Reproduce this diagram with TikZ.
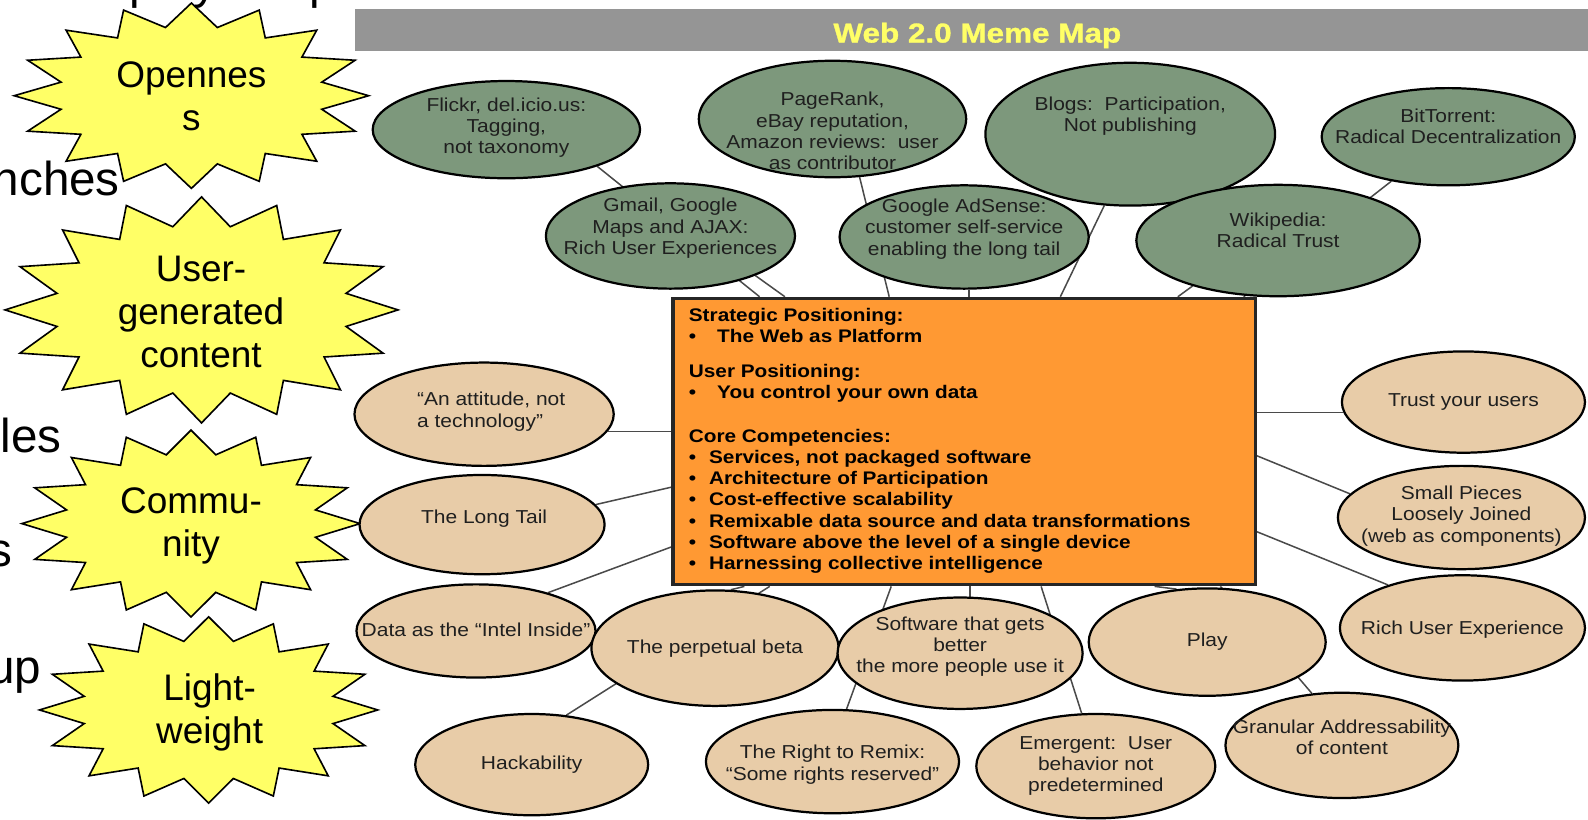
\documentclass[tikz,border=0pt]{standalone}
\usepackage{fontspec}
\setmainfont{Liberation Sans}
\newfontfamily\ellfont[FakeStretch=1.12]{Liberation Sans}
\newfontfamily\boxfont[FakeStretch=1.14]{Liberation Sans}
\newfontfamily\titlefont[FakeStretch=1.15,FakeBold=1.2]{Liberation Sans}
\usetikzlibrary{shapes.geometric,calc}
\definecolor{memegreen}{HTML}{7D987C}
\definecolor{memebeige}{HTML}{E8CCA8}
\definecolor{memeorange}{HTML}{FF9933}
\definecolor{bargray}{HTML}{959595}
\definecolor{titleyellow}{HTML}{FFFF66}
\definecolor{staryellow}{HTML}{FFFF66}
\definecolor{conngray}{HTML}{4A4A4A}
\pgfdeclarelayer{bg}
\pgfsetlayers{bg,main}
\tikzset{
  memeell/.style={ellipse, draw=black, line width=2.2pt, inner sep=0pt},
  greenell/.style={memeell, fill=memegreen},
  beigeell/.style={memeell, fill=memebeige},
  memetxt/.style={align=center, inner sep=0pt, text=black!88, font=\ellfont\fontsize{18.5}{21}\selectfont},
  boxtxt/.style={align=left, inner sep=0pt, text=black, font=\boxfont\bfseries\fontsize{18}{21}\selectfont},
  titletxt/.style={inner sep=0pt, text=titleyellow, font=\titlefont\bfseries\fontsize{27}{30}\selectfont},
  conn/.style={draw=conngray, line width=1.5pt},
  burst/.style={draw=black, line width=1.6pt, fill=staryellow, line join=miter},
  bursttxt/.style={align=center, inner sep=0pt, font=\fontsize{36.5}{42.5}\selectfont},
  slidetxt/.style={inner sep=0pt, anchor=base east, font=\fontsize{47}{54}\selectfont},
}
\newcommand{\burstat}[4]{%
  \draw[burst] plot[samples at={0,1,...,31}, variable=\k]
    ({#1+(1-0.25*mod(\k,2))*#3*cos(90+\k*11.25)},{#2+(1-0.25*mod(\k,2))*#4*sin(90+\k*11.25)}) -- cycle;}
\newcommand{\meme}[9]{%
  \node[#2, minimum width=#5pt, minimum height=#6pt] (#1) at (#3,#4) {};
  \node[memetxt] (#1-t) at ($(#1.center)+(#7,#8)$) {#9};}
\begin{document}
\begin{tikzpicture}[x=1pt,y=-1pt]
\useasboundingbox (0,0) rectangle (1568,809);
% background slide text (cut off)
\node[slidetxt,anchor=base west] (sl0) at (128,-1) {play the p};
\node[slidetxt] (sl1) at (118.5,193) {nches};
\node[slidetxt] (sl2) at (61,447) {les};
\node[slidetxt] (sl3) at (12,559) {s};
\node[slidetxt] (sl4) at (41,675) {up};
% stars
\burstat{189}{94.5}{175}{91.5}
\node[bursttxt] (openness) at (189,95) {Opennes\\s};
\burstat{199}{306}{194}{111.6}
\node[bursttxt] (ugc) at (198.5,308) {User-\\generated\\content};
\burstat{188.6}{517}{167}{92.3}
\node[bursttxt] (community) at (188.6,519) {Commu-\\nity};
\burstat{206}{701}{167}{92}
\node[bursttxt] (lightweight) at (207,703.5) {Light-\\weight};
% title bar
\node[fill=bargray, inner sep=0pt, minimum width=1218pt, minimum height=41pt, anchor=north west] (bar) at (350,9) {};
\node[titletxt, anchor=base] (title) at (965,42) {Web 2.0 Meme Map};
% green ellipses
\meme{flickr}{greenell}{500}{128}{264}{96}{0}{-2}{Flickr, del.icio.us:\\Tagging,\\not taxonomy}
\meme{pagerank}{greenell}{822}{117.5}{264}{115}{0}{12}{PageRank,\\eBay reputation,\\Amazon reviews:~~user\\as contributor}
\meme{blogs}{greenell}{1116}{132.5}{286}{141}{0}{-18}{Blogs:~~Participation,\\Not publishing}
\meme{bittorrent}{greenell}{1430}{135}{250}{96}{0}{-10}{BitTorrent:\\Radical Decentralization}
\meme{gmail}{greenell}{662}{233}{246}{104}{0}{-7.5}{Gmail, Google\\Maps and AJAX:\\Rich User Experiences}
\meme{adsense}{greenell}{952}{234}{246}{102}{0}{-8}{Google AdSense:\\customer self-service\\enabling the long tail}
\meme{wikipedia}{greenell}{1262}{237.5}{280}{110}{0}{-10}{Wikipedia:\\Radical Trust}
% beige ellipses
\node[beigeell, minimum width=256pt, minimum height=102pt] (attitude) at (478,409) {};
\node[memetxt, align=left] (attitude-t) at ($(attitude.center)+(7,-2.5)$) {“An attitude, not\\a technology”};
\meme{longtail}{beigeell}{476}{518}{242}{98}{2}{-6}{The Long Tail}
\meme{data}{beigeell}{470}{623}{236}{92}{0}{-1}{Data as the “Intel Inside”}
\meme{beta}{beigeell}{706}{640}{244}{114}{0}{0}{The perpetual beta}
\meme{software}{beigeell}{948}{645}{242}{110}{0}{-6.5}{Software that gets\\better\\the more people use it}
\meme{play}{beigeell}{1192}{634}{234}{106}{0}{0}{Play}
\meme{rue}{beigeell}{1444}{620}{242}{104}{0}{2}{Rich User Experience}
\meme{trust}{beigeell}{1445}{397}{240}{100}{0}{0}{Trust your users}
\meme{small}{beigeell}{1443}{511}{244}{102}{0}{-1.5}{Small Pieces\\Loosely Joined\\(web as components)}
\meme{hack}{beigeell}{525}{755}{230}{100}{0}{0}{Hackability}
\meme{remix}{beigeell}{822}{752}{250}{102}{0}{3}{The Right to Remix:\\“Some rights reserved”}
\meme{emergent}{beigeell}{1082}{756.5}{236}{103}{0}{0}{Emergent:~~User\\behavior not\\predetermined}
\meme{granular}{beigeell}{1325}{736}{230}{104}{0}{-8}{Granular Addressability\\of content}
% central box
\node[draw=black!85, line width=3pt, fill=memeorange, minimum width=575pt, minimum height=283pt, inner sep=0pt, anchor=north west] (box) at (663,293) {};
\node[boxtxt, anchor=west] (box-t) at (680,435.5) {Strategic Positioning:\\
\makebox[28pt][l]{•}The Web as Platform\\[13pt]
User Positioning:\\
\makebox[28pt][l]{•}You control your own data\\[22pt]
Core Competencies:\\
\makebox[20pt][l]{•}Services, not packaged software\\
\makebox[20pt][l]{•}Architecture of Participation\\
\makebox[20pt][l]{•}Cost-effective scalability\\
\makebox[20pt][l]{•}Remixable data source and data transformations\\
\makebox[20pt][l]{•}Software above the level of a single device\\
\makebox[20pt][l]{•}Harnessing collective intelligence};
% connectors
\begin{pgfonlayer}{bg}
\draw[conn] (flickr.-22) -- ([xshift=87pt]box.north west);
\draw[conn] (gmail.-25) -- ([xshift=112pt]box.north west);
\draw[conn] (pagerank.-65) -- ([xshift=215pt]box.north west);
\draw[conn] (adsense.-85) -- (adsense.-85 |- box.north);
\draw[conn] (blogs.-110) -- ([xshift=384pt]box.north west);
\draw[conn] (wikipedia.-152) -- ([xshift=500pt]box.north west);
\draw[conn] (bittorrent.-142) -- ([xshift=565pt]box.north west);
\draw[conn] (attitude.-8) -- (attitude.-8 -| box.west);
\draw[conn] (longtail.10) -- ([yshift=-188pt]box.north west);
\draw[conn] (data.28) -- ([yshift=-247pt]box.north west);
\draw[conn] (beta.75) -- ([xshift=72pt]box.south west);
\draw[conn] (hack.55) -- ([xshift=97pt]box.south west);
\draw[conn] (remix.75) -- ([xshift=217pt]box.south west);
\draw[conn] (software.80) -- (software.80 |- box.south);
\draw[conn] (emergent.105) -- ([xshift=365pt]box.south west);
\draw[conn] (play.120) -- ([xshift=477pt]box.south west);
\draw[conn] (granular.120) -- ([xshift=542pt]box.south west);
\draw[conn] (trust.-175) -- (trust.-175 -| box.east);
\draw[conn] (small.168) -- ([yshift=-157pt]box.north east);
\draw[conn] (rue.150) -- ([yshift=-232pt]box.north east);
\end{pgfonlayer}
\end{tikzpicture}
\end{document}
